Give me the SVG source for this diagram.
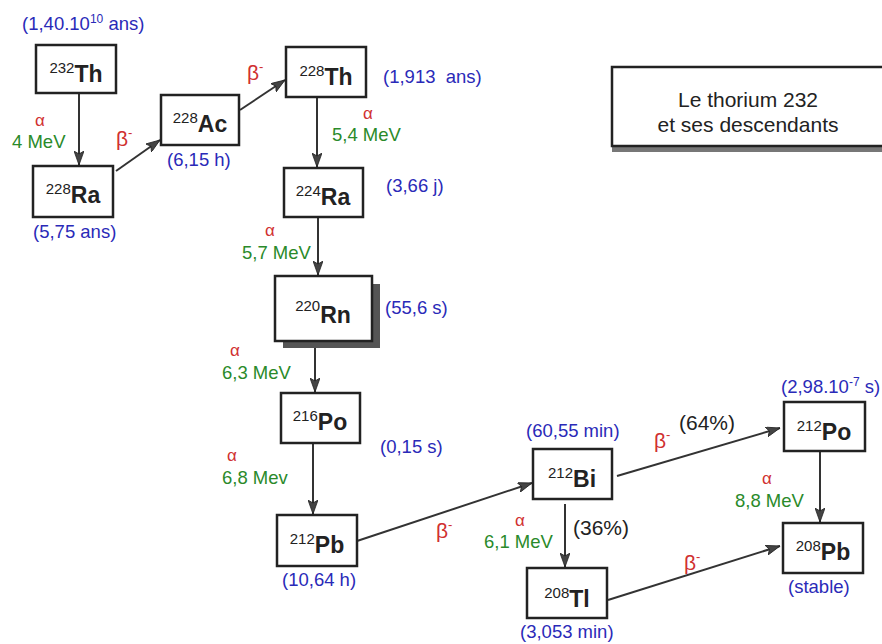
<svg xmlns="http://www.w3.org/2000/svg" width="882" height="644" viewBox="0 0 882 644">
<style>
.box{fill:#fff;stroke:#222;stroke-width:2.5}
.sup{font-family:"Liberation Sans",Arial,sans-serif;font-size:15px;fill:#222}
.el{font-family:"Liberation Sans",Arial,sans-serif;font-size:23px;font-weight:bold;fill:#222}
.blue{font-family:"Liberation Sans",Arial,sans-serif;font-size:18.5px;fill:#2a2ab8}
.green{font-family:"Liberation Sans",Arial,sans-serif;font-size:18.5px;fill:#2a8a2a}
.alpha{font-family:"Liberation Sans",Arial,sans-serif;font-size:17px;fill:#d03030}
.beta{font-family:"Liberation Sans",Arial,sans-serif;font-size:21px;fill:#d03030}
.pct{font-family:"Liberation Sans",Arial,sans-serif;font-size:21px;fill:#222}
.title{font-family:"Liberation Sans",Arial,sans-serif;font-size:21px;fill:#222}
.conn{stroke:#333;stroke-width:2;fill:none;marker-end:url(#ah)}
</style>
<defs>
<marker id="ah" markerUnits="userSpaceOnUse" markerWidth="15" markerHeight="10" refX="14" refY="5" orient="auto">
<path d="M0,0 L14,5 L0,10 L3,5 z" fill="#444" stroke="#222" stroke-width="0.8"/>
</marker>
</defs>
<rect width="882" height="644" fill="#fff"/>

<g id="title">
<rect x="612" y="145" width="275" height="7" fill="#777"/>
<rect x="612" y="67" width="280" height="79" class="box"/>
<text class="title" x="748" y="107" text-anchor="middle">Le thorium 232</text>
<text class="title" x="748" y="132" text-anchor="middle">et ses descendants</text>
</g>

<g id="connectors">
<line class="conn" x1="79" y1="93" x2="79" y2="165"/>
<line class="conn" x1="116" y1="171" x2="160" y2="140"/>
<line class="conn" x1="240" y1="110" x2="285" y2="80"/>
<line class="conn" x1="317" y1="97" x2="317" y2="167"/>
<line class="conn" x1="318" y1="217" x2="318" y2="275"/>
<line class="conn" x1="315" y1="341" x2="315" y2="392"/>
<line class="conn" x1="313" y1="443" x2="313" y2="514"/>
<line class="conn" x1="357" y1="541" x2="532" y2="483"/>
<line class="conn" x1="565" y1="504" x2="565" y2="567"/>
<line class="conn" x1="617" y1="476" x2="780" y2="428"/>
<line class="conn" x1="820" y1="451" x2="820" y2="522"/>
<line class="conn" x1="608" y1="600" x2="780" y2="546"/>
</g>

<g id="th232">
<rect x="36" y="45" width="80" height="48" class="box"/>
<text x="76" y="82" text-anchor="middle"><tspan class="sup" dy="-9">232</tspan><tspan class="el" dy="9">Th</tspan></text>
<text class="blue" x="22" y="30">(1,40.10<tspan font-size="12" dy="-7">10</tspan><tspan dy="7"> ans)</tspan></text>
</g>

<g id="ra228">
<rect x="33" y="166" width="80" height="51" class="box"/>
<text x="73" y="203" text-anchor="middle"><tspan class="sup" dy="-9">228</tspan><tspan class="el" dy="9">Ra</tspan></text>
<text class="blue" x="33" y="238">(5,75 ans)</text>
</g>

<g id="ac228">
<rect x="161" y="95" width="78" height="50" class="box"/>
<text x="200" y="132" text-anchor="middle"><tspan class="sup" dy="-9">228</tspan><tspan class="el" dy="9">Ac</tspan></text>
<text class="blue" x="167" y="166">(6,15 h)</text>
</g>

<g id="th228">
<rect x="286" y="47" width="80" height="50" class="box"/>
<text x="326" y="85" text-anchor="middle"><tspan class="sup" dy="-9">228</tspan><tspan class="el" dy="9">Th</tspan></text>
<text class="blue" x="383" y="83" xml:space="preserve">(1,913  ans)</text>
</g>

<g id="ra224">
<rect x="284" y="168" width="79" height="49" class="box"/>
<text x="323" y="205" text-anchor="middle"><tspan class="sup" dy="-9">224</tspan><tspan class="el" dy="9">Ra</tspan></text>
<text class="blue" x="386" y="192">(3,66 j)</text>
</g>

<g id="rn220">
<rect x="283" y="284" width="97" height="64" fill="#555"/>
<rect x="275" y="276" width="97" height="65" class="box"/>
<text x="323" y="323" text-anchor="middle"><tspan class="sup" font-size="21" dy="-12">220</tspan><tspan class="el" font-size="31" dy="12">Rn</tspan></text>
<text class="blue" x="385" y="314">(55,6 s)</text>
</g>

<g id="po216">
<rect x="281" y="393" width="79" height="50" class="box"/>
<text x="320" y="430" text-anchor="middle"><tspan class="sup" dy="-9">216</tspan><tspan class="el" dy="9">Po</tspan></text>
<text class="blue" x="380" y="453">(0,15 s)</text>
</g>

<g id="pb212">
<rect x="277" y="515" width="80" height="51" class="box"/>
<text x="317" y="553" text-anchor="middle"><tspan class="sup" dy="-9">212</tspan><tspan class="el" dy="9">Pb</tspan></text>
<text class="blue" x="282" y="586">(10,64 h)</text>
</g>

<g id="bi212">
<rect x="533" y="449" width="79" height="50" class="box"/>
<text x="572" y="487" text-anchor="middle"><tspan class="sup" dy="-9">212</tspan><tspan class="el" dy="9">Bi</tspan></text>
<text class="blue" x="526" y="437">(60,55 min)</text>
</g>

<g id="tl208">
<rect x="527" y="568" width="80" height="50" class="box"/>
<text x="567" y="607" text-anchor="middle"><tspan class="sup" dy="-9">208</tspan><tspan class="el" dy="9">Tl</tspan></text>
<text class="blue" x="520" y="638">(3,053 min)</text>
</g>

<g id="po212">
<rect x="784" y="402" width="81" height="49" class="box"/>
<text x="824" y="440" text-anchor="middle"><tspan class="sup" dy="-9">212</tspan><tspan class="el" dy="9">Po</tspan></text>
<text class="blue" x="781" y="393">(2,98.10<tspan font-size="12" dy="-7">-7</tspan><tspan dy="7"> s)</tspan></text>
</g>

<g id="pb208">
<rect x="783" y="523" width="80" height="50" class="box"/>
<text x="823" y="560" text-anchor="middle"><tspan class="sup" dy="-9">208</tspan><tspan class="el" dy="9">Pb</tspan></text>
<text class="blue" x="788" y="593">(stable)</text>
</g>

<g id="labels">
<text class="alpha" x="40" y="126" text-anchor="middle">α</text>
<text class="green" x="12" y="148">4 MeV</text>
<text class="beta" x="116" y="146">β<tspan font-size="13" dy="-9">-</tspan></text>
<text class="beta" x="247" y="80">β<tspan font-size="13" dy="-9">-</tspan></text>
<text class="alpha" x="368" y="119" text-anchor="middle">α</text>
<text class="green" x="332" y="141">5,4 MeV</text>
<text class="alpha" x="270" y="236" text-anchor="middle">α</text>
<text class="green" x="242" y="259">5,7 MeV</text>
<text class="alpha" x="235" y="356" text-anchor="middle">α</text>
<text class="green" x="222" y="379">6,3 MeV</text>
<text class="alpha" x="232" y="461" text-anchor="middle">α</text>
<text class="green" x="222" y="484">6,8 Mev</text>
<text class="beta" x="436" y="538">β<tspan font-size="13" dy="-9">-</tspan></text>
<text class="alpha" x="520" y="526" text-anchor="middle">α</text>
<text class="green" x="484" y="548">6,1 MeV</text>
<text class="pct" x="573" y="535">(36%)</text>
<text class="beta" x="654" y="448">β<tspan font-size="13" dy="-9">-</tspan></text>
<text class="pct" x="679" y="430">(64%)</text>
<text class="alpha" x="767" y="484" text-anchor="middle">α</text>
<text class="green" x="735" y="507">8,8 MeV</text>
<text class="beta" x="684" y="570">β<tspan font-size="13" dy="-9">-</tspan></text>
</g>
</svg>
